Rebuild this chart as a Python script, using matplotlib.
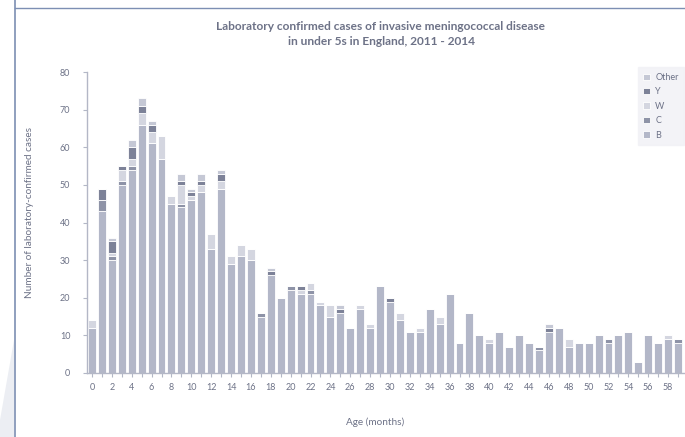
import matplotlib
matplotlib.use("Agg")
import matplotlib.pyplot as plt
from matplotlib.patches import Polygon
from matplotlib.lines import Line2D
import numpy as np

plt.rcParams['font.family'] = ['Lato', 'DejaVu Sans']

months = list(range(60))
serogroup_B = [12, 43, 30, 50, 54, 66, 61, 57, 45, 44, 46, 48, 33, 49, 29, 31, 30, 15, 26, 20,
               22, 21, 21, 18, 15, 16, 12, 17, 12, 23, 19, 14, 11, 11, 17, 13, 21, 8, 16, 10,
               8, 11, 7, 10, 8, 6, 11, 12, 7, 8, 8, 10, 8, 10, 11, 3, 10, 8, 9, 8]
serogroup_C = [0, 3, 1, 1, 1, 0, 0, 0, 0, 1, 0, 0, 0, 0, 0, 0, 0, 1, 0, 0,
               1, 0, 1, 0, 0, 0, 0, 0, 0, 0, 0, 0, 0, 0, 0, 0, 0, 0, 0, 0,
               0, 0, 0, 0, 0, 1, 0, 0, 0, 0, 0, 0, 1, 0, 0, 0, 0, 0, 0, 1]
serogroup_W = [2, 0, 1, 3, 2, 3, 3, 6, 2, 5, 1, 2, 4, 2, 2, 3, 3, 0, 0, 0,
               0, 1, 2, 1, 3, 0, 0, 1, 1, 0, 0, 2, 0, 1, 0, 2, 0, 0, 0, 0,
               1, 0, 0, 0, 0, 0, 0, 0, 2, 0, 0, 0, 0, 0, 0, 0, 0, 0, 1, 0]
serogroup_Y = [0, 3, 3, 1, 3, 2, 2, 0, 0, 1, 1, 1, 0, 2, 0, 0, 0, 0, 1, 0,
               0, 1, 0, 0, 0, 1, 0, 0, 0, 0, 1, 0, 0, 0, 0, 0, 0, 0, 0, 0,
               0, 0, 0, 0, 0, 0, 1, 0, 0, 0, 0, 0, 0, 0, 0, 0, 0, 0, 0, 0]
other = [0, 0, 1, 0, 2, 2, 1, 0, 0, 2, 1, 2, 0, 1, 0, 0, 0, 0, 1, 0,
         0, 0, 0, 0, 0, 1, 0, 0, 0, 0, 0, 0, 0, 0, 0, 0, 0, 0, 0, 0,
         0, 0, 0, 0, 0, 0, 1, 0, 0, 0, 0, 0, 0, 0, 0, 0, 0, 0, 0, 0]

series = [("B", serogroup_B, "#b3b7c8"),
          ("C", serogroup_C, "#8e93a7"),
          ("W", serogroup_W, "#d4d6e0"),
          ("Y", serogroup_Y, "#7d8298"),
          ("Other", other, "#c5c8d5")]

title = "Laboratory confirmed cases of invasive meningococcal disease\nin under 5s in England, 2011 - 2014"
ylabel = "Number of laboratory-confirmed cases"
xlabel = "Age (months)"
txt = "#6d7287"
axcol = "#b3b7c6"

fig = plt.figure(figsize=(6.85, 4.37), dpi=100)
ax = fig.add_axes([87/685, 1 - 373/437, (684 - 87)/685, (373 - 72)/437])

x = np.arange(len(months))
bottom = np.zeros(len(months))
handles = []
for name, vals, col in series:
    v = np.array(vals, dtype=float)
    b = ax.bar(x, v, width=0.8, bottom=bottom, color=col, edgecolor="white", linewidth=0.6, label=name)
    bottom += v
    handles.append(b)

ax.set_xlim(-0.5, 59.6)
ax.set_ylim(0, 80)
ax.set_yticks(range(0, 81, 10))
ax.set_xticks(x)
ax.set_xticklabels([str(m) if m % 2 == 0 else "" for m in months])
ax.tick_params(axis="x", length=3, color=axcol, labelsize=6.5, labelcolor=txt, pad=4)
ax.tick_params(axis="y", length=3, color=axcol, labelsize=6.5, labelcolor=txt, pad=9)
for s in ["top", "right"]:
    ax.spines[s].set_visible(False)
for s in ["left", "bottom"]:
    ax.spines[s].set_color(axcol)
    ax.spines[s].set_linewidth(1.0)

fig.text(381/685, 1 - 34/437, title, ha="center", va="center", fontsize=8.6, color=txt,
         linespacing=1.45, fontweight="bold")
fig.text(30/685, 1 - 212/437, ylabel, rotation=90, ha="center", va="center", fontsize=7.2, color=txt)
fig.text(375/685, 1 - 422/437, xlabel, ha="center", va="center", fontsize=7.2, color=txt)

leg = ax.legend(handles[::-1], [s[0] for s in series][::-1], loc="upper right",
                bbox_to_anchor=(1.0, 1.015), frameon=True, fontsize=6.5,
                handlelength=0.7, handleheight=0.7, labelspacing=0.6,
                borderpad=0.6, handletextpad=0.6, borderaxespad=0.0)
leg.get_frame().set_facecolor("#f1f1f5")
leg.get_frame().set_edgecolor("#f1f1f5")
leg.get_frame().set_boxstyle("square", pad=0)
for t in leg.get_texts():
    t.set_color(txt)

# slide frame decorations
fig.add_artist(Line2D([15/685, 15/685], [0, 1], color="#7d8fb3", linewidth=1.2, transform=fig.transFigure))
fig.add_artist(Line2D([15/685, 1], [1 - 8/437, 1 - 8/437], color="#7d8fb3", linewidth=1.0, transform=fig.transFigure))
fig.add_artist(Polygon([[0, 0], [14/685, 0], [14/685, 1 - 340/437], [0, 1 - 420/437]],
                       closed=True, facecolor="#eceef3", edgecolor="none", transform=fig.transFigure))

fig.savefig("out.png", dpi=100)
